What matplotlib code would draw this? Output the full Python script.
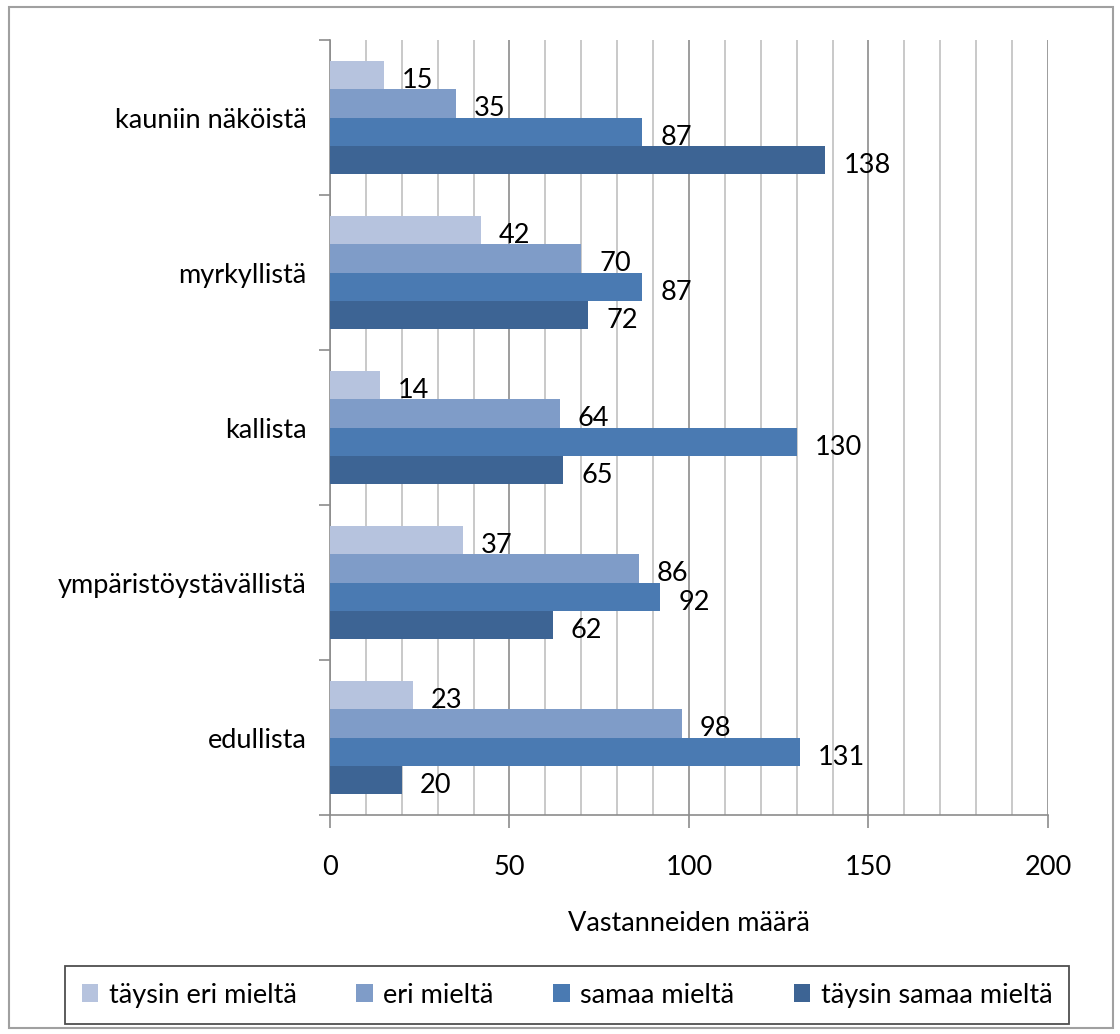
import numpy as np
import matplotlib.pyplot as plt
from matplotlib.patches import Rectangle

plt.rcParams['font.family'] = ['Lato', 'DejaVu Sans']

categories = ['kauniin näköistä', 'myrkyllistä', 'kallista', 'ympäristöystävällistä', 'edullista']
series = ['täysin eri mieltä', 'eri mieltä', 'samaa mieltä', 'täysin samaa mieltä']
values = [
    [15, 42, 14, 37, 23],
    [35, 70, 64, 86, 98],
    [87, 87, 130, 92, 131],
    [138, 72, 65, 62, 20],
]
colors = ['#B6C3DE', '#7F9CC8', '#4A7AB2', '#3D6494']
x_ticks = [0, 50, 100, 150, 200]
fs = 19.5

fig = plt.figure(figsize=(11.2, 10.34), dpi=100)
fig.patches.append(Rectangle((0.008, 0.006), 0.986, 0.987, transform=fig.transFigure,
                             fill=False, edgecolor='#A0A0A0', linewidth=1.5))
ax = fig.add_axes([0.2946, 0.2118, 0.6411, 0.7495])

n = len(categories)
bar_h = 0.182
y_centers = np.arange(n)[::-1].astype(float)
for i, (name, vals) in enumerate(zip(series, values)):
    ypos = y_centers + (1.5 - i) * bar_h
    ax.barh(ypos, vals, height=bar_h, color=colors[i], label=name, zorder=3)
    for y, v in zip(ypos, vals):
        ax.text(v + 5, y - 0.035, str(v), va='center', ha='left', fontsize=fs, zorder=4)

ax.set_xlim(0, 200)
ax.set_ylim(-0.5, n - 0.5)
ax.set_xticks(x_ticks)
ax.set_xticks(np.arange(0, 201, 10), minor=True)
ax.grid(axis='x', which='minor', color='#C0C0C0', linewidth=1.2, zorder=0)
ax.grid(axis='x', which='major', color='#8C8C8C', linewidth=1.2, zorder=0)
ax.tick_params(axis='x', which='major', length=9, width=1.2, color='#8C8C8C', pad=20, labelsize=fs)
ax.tick_params(axis='x', which='minor', length=0)

ax.set_yticks(y_centers)
ax.set_yticklabels(categories)
ax.set_yticks(np.arange(-0.5, n, 1.0), minor=True)
ax.tick_params(axis='y', which='major', length=0, pad=17, labelsize=fs)
ax.tick_params(axis='y', which='minor', length=8, width=1.2, color='#8C8C8C')

for side in ['top', 'right']:
    ax.spines[side].set_visible(False)
for side in ['left', 'bottom']:
    ax.spines[side].set_color('#8C8C8C')
    ax.spines[side].set_linewidth(1.2)
ax.spines['bottom'].set_bounds(0, 200)

ax.set_xlabel('Vastanneiden määrä', fontsize=fs, labelpad=22)

leg = fig.legend(loc='center', bbox_to_anchor=(0.5065, 0.0377), ncol=4, fontsize=fs,
                 frameon=True, fancybox=False, edgecolor='#222222', handlelength=0.6,
                 handleheight=0.6, handletextpad=0.4, columnspacing=2.2,
                 borderpad=0.6)
leg.get_frame().set_linewidth(1.3)

fig.savefig('out.png', dpi=100)
